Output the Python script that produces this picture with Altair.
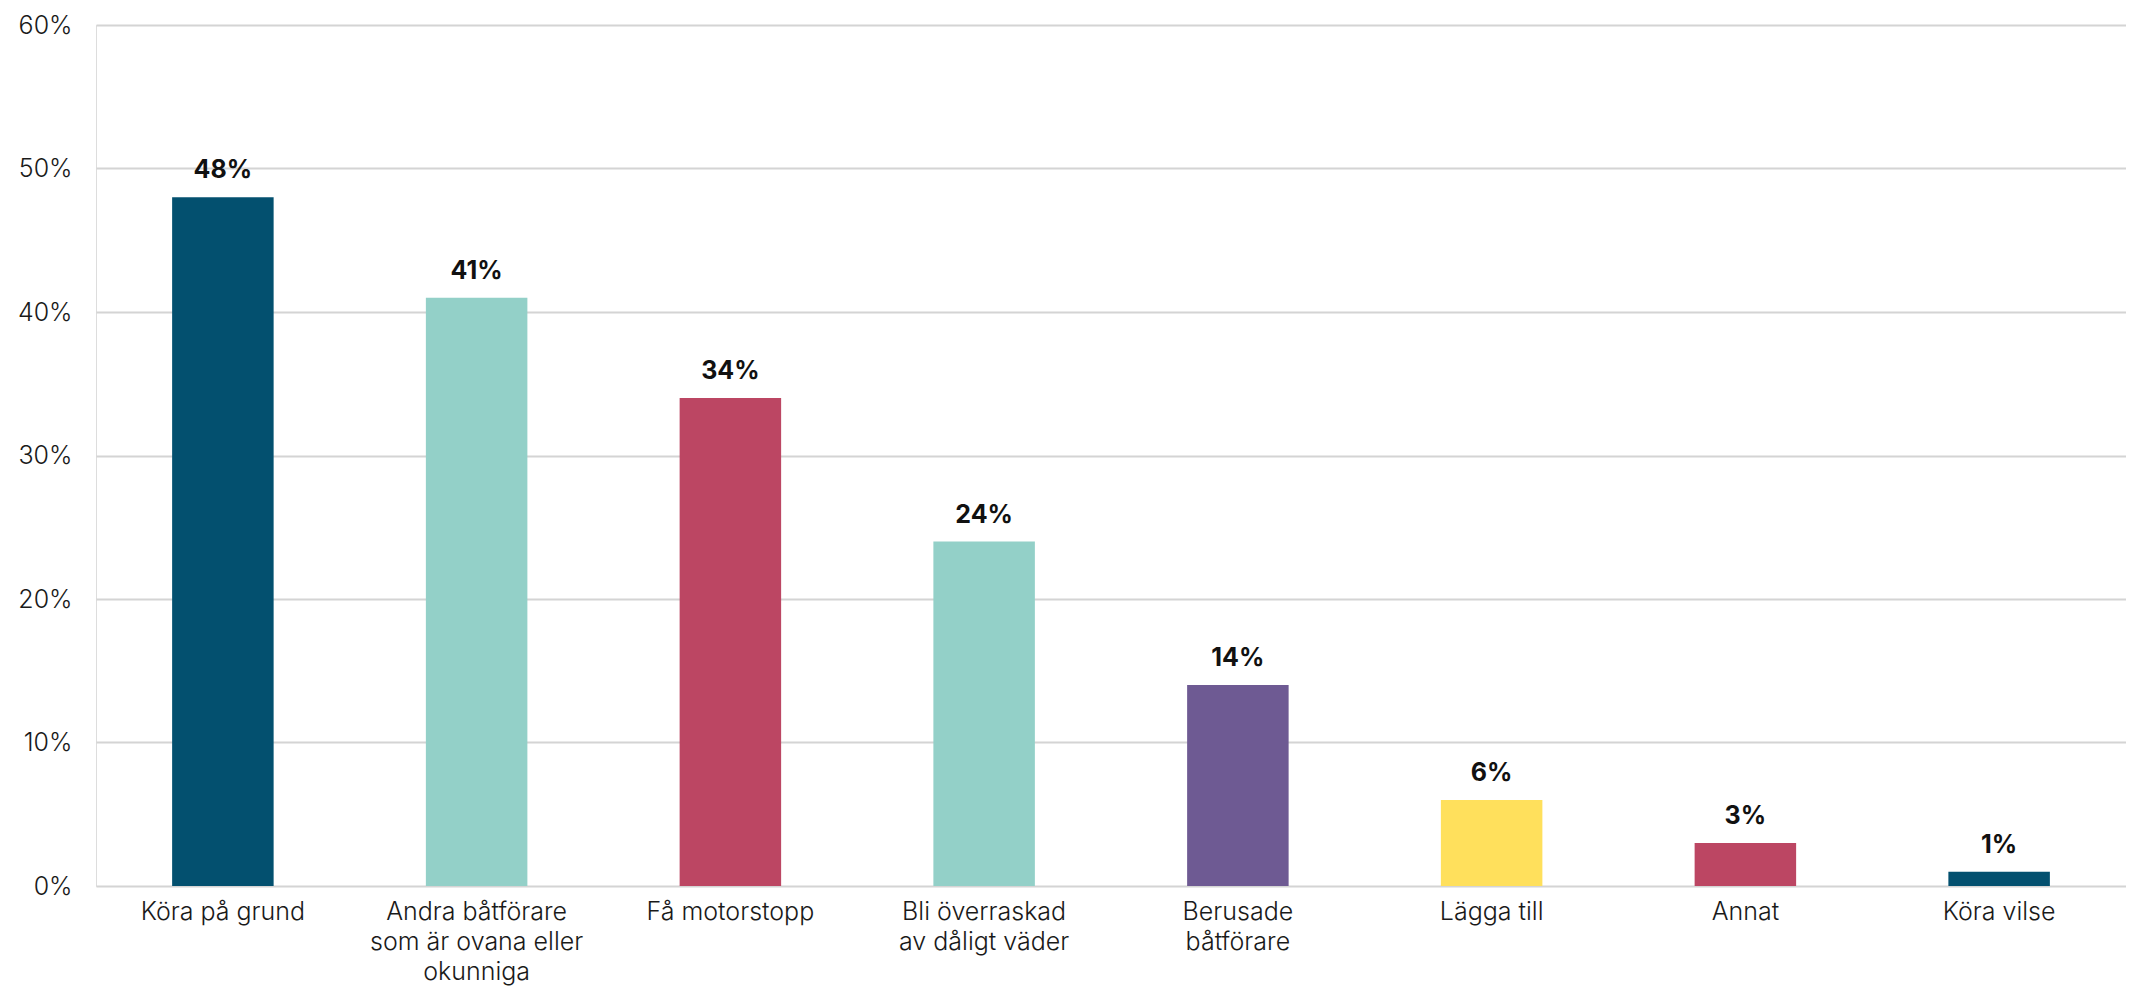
import altair as alt
import pandas as pd

categories = [
    "Köra på grund",
    "Andra båtförare|som är ovana eller|okunniga",
    "Få motorstopp",
    "Bli överraskad|av dåligt väder",
    "Berusade|båtförare",
    "Lägga till",
    "Annat",
    "Köra vilse",
]
values = [0.48, 0.41, 0.34, 0.24, 0.14, 0.06, 0.03, 0.01]
colors = ["#03506f", "#93d0c8", "#bc4663", "#93d0c8", "#6e5a93", "#ffe05c", "#bc4663", "#03506f"]
y_ticks = [0, 0.1, 0.2, 0.3, 0.4, 0.5, 0.6]

df = pd.DataFrame({"cat": categories, "val": values, "col": colors})

FONT = "Inter"

x = alt.X(
    "cat:N",
    sort=categories,
    scale=alt.Scale(paddingInner=0.6, paddingOuter=0.3),
    axis=alt.Axis(
        title=None,
        labelAngle=0,
        labelExpr="split(datum.label, '|')",
        labelFont=FONT,
        labelFontSize=25,
        labelFontWeight=300,
        labelColor="#1a1a1a",
        labelLineHeight=30,
        labelPadding=13,
        labelBaseline="top",
        labelLimit=0,
        ticks=False,
        domain=False,
        grid=False,
    ),
)

y = alt.Y(
    "val:Q",
    scale=alt.Scale(domain=[0, 0.6]),
    axis=alt.Axis(
        title=None,
        values=y_ticks,
        format=".0%",
        labelFont=FONT,
        labelFontSize=25,
        labelFontWeight=300,
        labelColor="#1a1a1a",
        labelPadding=24,
        ticks=False,
        domain=False,
        grid=True,
        gridColor="#d4d4d4",
        gridWidth=2,
    ),
)

bars = alt.Chart(df).mark_bar().encode(
    x=x,
    y=y,
    color=alt.Color("col:N", scale=None),
)

labels = alt.Chart(df).mark_text(
    baseline="bottom",
    dy=-14,
    font=FONT,
    fontSize=25,
    fontWeight="bold",
    color="#111111",
).encode(
    x=alt.X("cat:N", sort=categories),
    y=alt.Y("val:Q"),
    text=alt.Text("val:Q", format=".0%"),
)

chart = (
    alt.layer(bars, labels)
    .properties(
        width=2030,
        height=861,
        padding={"left": 88, "top": 17, "right": 0, "bottom": 108},
        autosize=alt.AutoSizeParams(type="none"),
    )
    .configure_view(stroke=None)
    .configure(background="white")
)

chart.save("out.html", embed_options={"renderer": "svg", "actions": False})
